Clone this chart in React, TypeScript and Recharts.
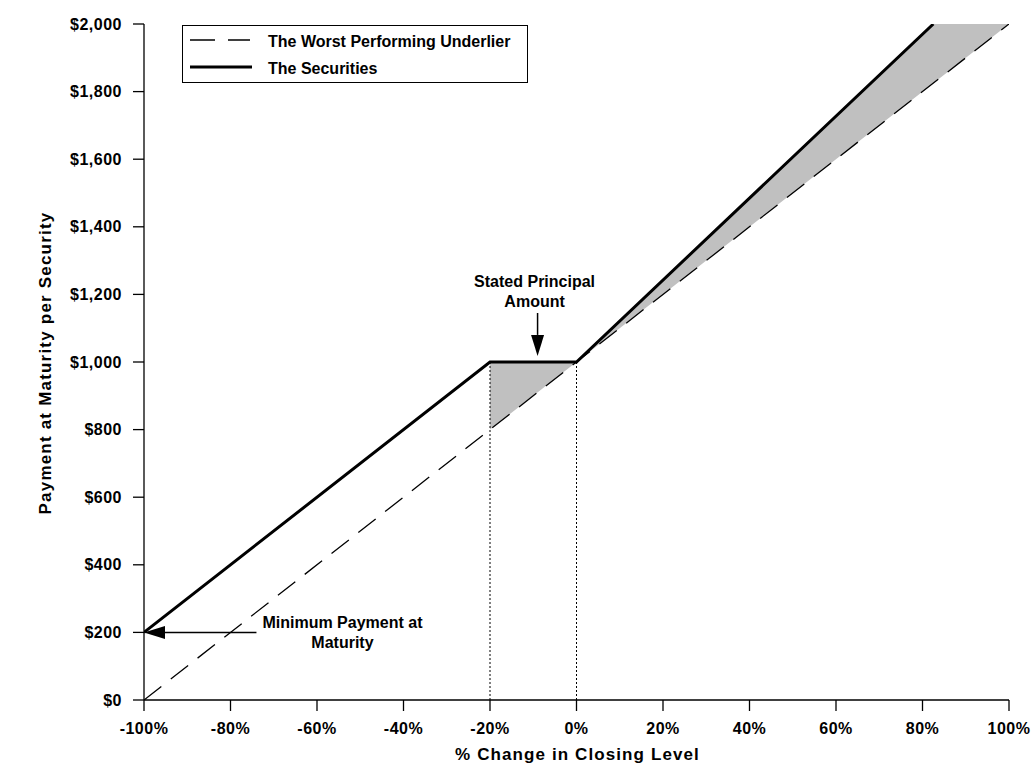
import React from 'react';
import {
  ComposedChart,
  Line,
  Area,
  XAxis,
  YAxis,
  ReferenceLine,
  Legend,
} from 'recharts';

// ---- data ----
const xTicks = [-100, -80, -60, -40, -20, 0, 20, 40, 60, 80, 100];
const yTicks = [0, 200, 400, 600, 800, 1000, 1200, 1400, 1600, 1800, 2000];

const underlierX = [-100, 100];
const underlierY = [0, 2000];

const securitiesX = [-100, -20, 0, 82.5];
const securitiesY = [200, 1000, 1000, 2000];

const shadeX = [-20, 0, 82.5, 100];
const shadeLow = [800, 1000, 1825, 2000];
const shadeHigh = [1000, 1000, 2000, 2000];

const legendLabels = ['The Worst Performing Underlier', 'The Securities'];

const underlierData = underlierX.map((x, i) => ({ x, y: underlierY[i] }));
const securitiesData = securitiesX.map((x, i) => ({ x, y: securitiesY[i] }));
const shadeData = shadeX.map((x, i) => ({ x, range: [shadeLow[i], shadeHigh[i]] }));

const FONT = '"Liberation Sans", Arial, Helvetica, sans-serif';
const GRAY = '#c0c0c0';

const fmtPct = (v: number) => `${v}%`;
const fmtUsd = (v: number) => `$${v.toLocaleString('en-US')}`;

type ArrowProps = {
  x1?: number;
  y1?: number;
  x2?: number;
  y2?: number;
  lines: string[];
  tdx: number;
  tdy: number;
};

const ArrowWithText = ({ x1 = 0, y1 = 0, x2 = 0, y2 = 0, lines, tdx, tdy }: ArrowProps) => {
  const dx = x2 - x1;
  const dy = y2 - y1;
  const len = Math.sqrt(dx * dx + dy * dy) || 1;
  const ux = dx / len;
  const uy = dy / len;
  const headLen = 21;
  const headHalf = 6.5;
  const bx = x2 - ux * headLen;
  const by = y2 - uy * headLen;
  const px = -uy;
  const py = ux;
  const pts = `${x2},${y2} ${bx + px * headHalf},${by + py * headHalf} ${bx - px * headHalf},${by - py * headHalf}`;
  return (
    <g>
      <line x1={x1} y1={y1} x2={bx} y2={by} stroke="#000" strokeWidth={1.5} />
      <polygon points={pts} fill="#000" />
      {lines.map((t, i) => (
        <text
          key={i}
          x={x1 + tdx}
          y={y1 + tdy + i * 20}
          textAnchor="middle"
          fontFamily={FONT}
          fontWeight="bold"
          fontSize={16}
          fill="#000"
        >
          {t}
        </text>
      ))}
    </g>
  );
};

const LegendBox = () => (
  <svg width={347} height={59} style={{ display: 'block' }}>
    <rect x={0.5} y={0.5} width={345} height={57} fill="#fff" stroke="#000" strokeWidth={1} />
    <line x1={8} y1={15} x2={68} y2={15} stroke="#000" strokeWidth={1.3} strokeDasharray="25 13" />
    <line x1={8} y1={42} x2={70} y2={42} stroke="#000" strokeWidth={3} />
    {legendLabels.map((t, i) => (
      <text
        key={t}
        x={86}
        y={22 + i * 27}
        fontFamily={FONT}
        fontWeight="bold"
        fontSize={16}
        fill="#000"
      >
        {t}
      </text>
    ))}
  </svg>
);

const tickStyle = {
  fontFamily: FONT,
  fontWeight: 'bold' as const,
  fontSize: 16,
  fill: '#000',
  letterSpacing: 0.5,
};

export default function App() {
  return (
    <div style={{ position: 'absolute', left: 0, top: 0, width: 1031, height: 781, background: '#fff' }}>
      <ComposedChart
        width={1031}
        height={781}
        margin={{ top: 24, right: 22, bottom: 51, left: 84 }}
      >
        <XAxis
          type="number"
          dataKey="x"
          domain={[-100, 100]}
          ticks={xTicks}
          tickFormatter={fmtPct}
          allowDataOverflow
          height={30}
          tickSize={11}
          tickMargin={12}
          axisLine={{ stroke: '#000', strokeWidth: 1.3 }}
          tickLine={{ stroke: '#000', strokeWidth: 1.3 }}
          tick={tickStyle}
          interval={0}
          label={{
            content: (p: any) => {
              const vb = p.viewBox || {};
              return (
                <text
                  x={vb.x + vb.width / 2 + 1}
                  y={760}
                  textAnchor="middle"
                  fontFamily={FONT}
                  fontWeight="bold"
                  fontSize={17}
                  fill="#000"
                  letterSpacing={1.1}
                >
                  % Change in Closing Level
                </text>
              );
            },
          }}
        />
        <YAxis
          type="number"
          domain={[0, 2000]}
          ticks={yTicks}
          tickFormatter={fmtUsd}
          allowDataOverflow
          width={60}
          tickSize={11}
          tickMargin={11}
          axisLine={{ stroke: '#000', strokeWidth: 1.3 }}
          tickLine={{ stroke: '#000', strokeWidth: 1.3 }}
          tick={tickStyle}
          interval={0}
          label={{
            content: (p: any) => {
              const vb = p.viewBox || {};
              const cy = vb.y + vb.height / 2 + 1;
              return (
                <text
                  x={51}
                  y={cy}
                  transform={`rotate(-90, 51, ${cy})`}
                  textAnchor="middle"
                  fontFamily={FONT}
                  fontWeight="bold"
                  fontSize={17}
                  fill="#000"
                  letterSpacing={1.2}
                >
                  Payment at Maturity per Security
                </text>
              );
            },
          }}
        />
        <Legend
          layout="horizontal"
          verticalAlign="middle"
          align="center"
          wrapperStyle={{ position: 'absolute', left: 182, top: 25, width: 347, height: 59 }}
          content={() => <LegendBox />}
        />
        <Area
          data={shadeData}
          dataKey="range"
          type="linear"
          stroke="none"
          fill={GRAY}
          fillOpacity={1}
          isAnimationActive={false}
          legendType="none"
          activeDot={false}
        />
        <ReferenceLine
          segment={[{ x: -20, y: 0 }, { x: -20, y: 1000 }]}
          stroke="#000"
          strokeWidth={1}
          strokeDasharray="2 2"
        />
        <ReferenceLine
          segment={[{ x: 0, y: 0 }, { x: 0, y: 1000 }]}
          stroke="#000"
          strokeWidth={1}
          strokeDasharray="2 2"
        />
        <Line
          data={underlierData}
          dataKey="y"
          name={legendLabels[0]}
          type="linear"
          stroke="#000"
          strokeWidth={1.3}
          strokeDasharray="22 12"
          dot={false}
          activeDot={false}
          isAnimationActive={false}
        />
        <Line
          data={securitiesData}
          dataKey="y"
          name={legendLabels[1]}
          type="linear"
          stroke="#000"
          strokeWidth={3}
          dot={false}
          activeDot={false}
          isAnimationActive={false}
        />
        <ReferenceLine
          segment={[{ x: -9, y: 1145 }, { x: -9, y: 1018 }]}
          shape={(p: any) => (
            <ArrowWithText {...p} lines={['Stated Principal', 'Amount']} tdx={-3} tdy={-26} />
          )}
        />
        <ReferenceLine
          segment={[{ x: -74, y: 200 }, { x: -100, y: 200 }]}
          shape={(p: any) => (
            <ArrowWithText {...p} lines={['Minimum Payment at', 'Maturity']} tdx={86} tdy={-4} />
          )}
        />
      </ComposedChart>
    </div>
  );
}
